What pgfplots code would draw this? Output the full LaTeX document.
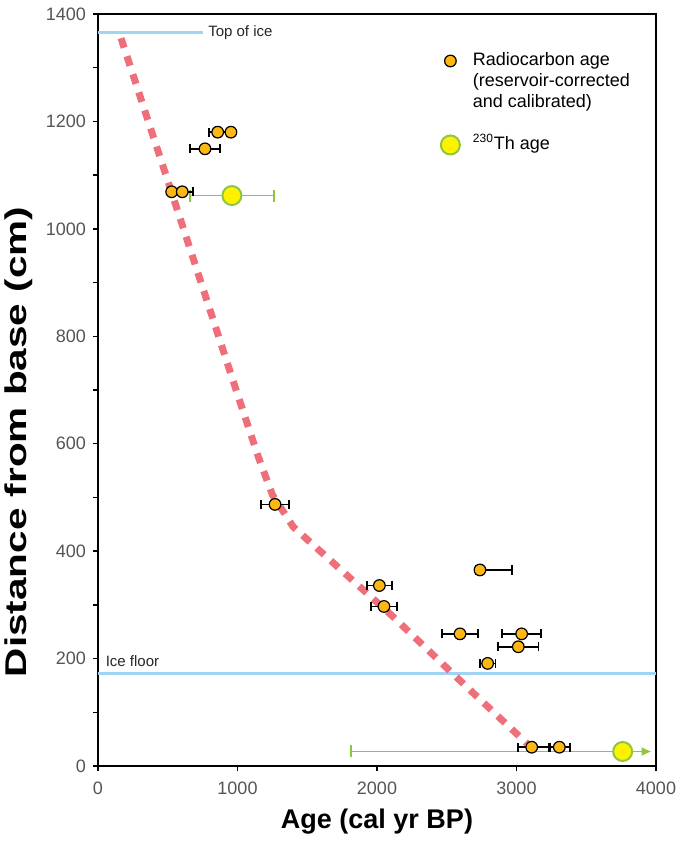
\documentclass[border=0pt]{standalone}
\usepackage{fontspec}
\setmainfont{Liberation Sans}
\usepackage{pgfplots}
\pgfplotsset{compat=1.18}
\usetikzlibrary{arrows.meta}
\definecolor{rcfill}{HTML}{FDB813}
\definecolor{thfill}{HTML}{FFF200}
\definecolor{thgreen}{HTML}{8DC63F}
\definecolor{iceblue}{HTML}{9FD4F2}
\definecolor{curvered}{HTML}{EC5F6C}
\definecolor{tickgray}{HTML}{555555}
\begin{document}
\begin{tikzpicture}
\begin{axis}[
  scale only axis, width=279pt, height=376pt,
  xmin=0, xmax=4000, ymin=0, ymax=1400,
  xtick={0,1000,...,4000}, ytick={0,200,...,1400},
  minor ytick={100,300,...,1300},
  tick align=outside, xtick pos=bottom, ytick pos=left,
  major tick length=2.5pt, minor tick length=2.5pt,
  axis line style={line width=0.7pt},
  tick style={black, line width=0.7pt},
  /pgf/number format/assume math mode=true,
  /pgf/number format/1000 sep={},
  tick label style={font=\fontsize{9}{10}\selectfont, text=tickgray},
  xticklabel style={yshift=-2pt},
  xlabel={Age (cal yr BP)},
  ylabel={\scalebox{1.35}[1]{\fontsize{15}{17}\selectfont\bfseries Distance from base (cm)}},
  xlabel style={font=\fontsize{13.5}{15}\selectfont\bfseries, at={(axis description cs:0.5,-0.074)}, anchor=center},
  ylabel style={at={(axis description cs:-0.142,0.431)}, anchor=center},
  legend cell align=left,
  legend style={draw=none, fill=none, at={(axis description cs:0.5895,0.957)}, anchor=north west,
    font=\fontsize{9}{10.25}\selectfont, row sep=0.25pt,
    nodes={inner ysep=0.5pt, text height=7pt, text depth=2.25pt},
    /tikz/every odd column/.append style={column sep=4.5pt}},
]
% ice lines
\addplot[iceblue, line width=1.5pt, forget plot] coordinates {(0,1365) (753,1365)};
\addplot[iceblue, line width=1.5pt, forget plot] coordinates {(0,173) (4000,173)};
% age model curve
\addplot[curvered, opacity=0.9, line width=3.5pt, dash pattern=on 5pt off 4.5pt, forget plot]
  coordinates {(165,1355) (573,1032) (1000,692) (1150,575) (1250,505) (1400,445) (2115,278) (2640,148) (3075,42)};
% Th bottom (arrow)
\addplot[thgreen, line width=0.9pt, -{Latex[length=5pt,width=4.5pt]}, mark=|, mark indices={1},
  mark options={solid, mark size=3pt}, forget plot]
  coordinates {(1811,27) (3969,27)};
% Th top
\addplot[forget plot, only marks, mark=*, mark size=4.75pt, mark options={fill=thfill, draw=thgreen, line width=1pt},
  error bars/.cd, x dir=both, x explicit,
  error bar style={thgreen, line width=0.9pt},
  error mark options={rotate=90, mark size=3pt, thgreen, line width=0.9pt}]
  coordinates {(960,1062) +- (300,0) (3761,27) +- (0,0)};
% radiocarbon
\addplot[forget plot, only marks, mark=*, mark size=2.9pt, mark options={fill=rcfill, draw=black, line width=0.6pt},
  error bars/.cd, x dir=both, x explicit,
  error bar style={black, line width=0.9pt},
  error mark options={rotate=90, mark size=2.3pt, black, line width=0.9pt}]
  coordinates {
  (858,1180) +- (63,0)
  (953,1180) +- (25,0)
  (767,1149) +- (107,0)
  (528,1069) +- (25,0)
  (604,1069) +- (75,0)
  (1269,487) +- (100,0)
  (2017,336) +- (90,0)
  (2050,297) +- (95,0)
  (2738,365) += (227,0) -= (30,0)
  (2595,246) +- (128,0)
  (3037,246) +- (140,0)
  (3013,222) +- (145,0)
  (2793,191) +- (57,0)
  (3109,35) += (130,0) -= (100,0)
  (3307,35) +- (75,0)
  };
\addlegendimage{only marks, mark=*, mark size=2.9pt, mark options={fill=rcfill, draw=black, line width=0.6pt}}
\addlegendentry{Radiocarbon age}
\addlegendimage{empty legend}
\addlegendentry{{(reservoir-corrected}}
\addlegendimage{empty legend}
\addlegendentry{{and calibrated)}}
\addlegendimage{empty legend}
\addlegendentry{\mbox{}}
\addlegendimage{only marks, mark=*, mark size=4.75pt, mark options={fill=thfill, draw=thgreen, line width=1pt}}
\addlegendentry{\textsuperscript{230}Th age}
\node[anchor=west, font=\fontsize{7.5}{9}\selectfont, text=black!85] at (axis cs:740,1365) {Top of ice};
\node[anchor=west, font=\fontsize{7.5}{9}\selectfont, text=black!85] at (axis cs:5,195) {Ice floor};
\end{axis}
\pgfresetboundingbox
\path (-49pt,-40pt) rectangle (293.5pt,383pt);
\end{tikzpicture}
\end{document}
